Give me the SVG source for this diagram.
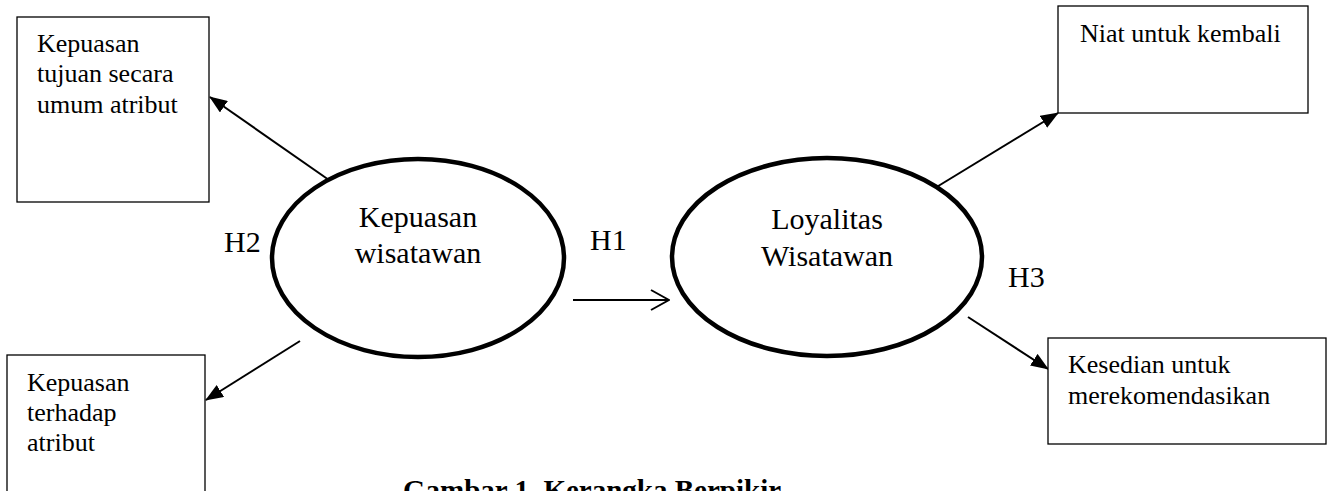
<svg xmlns="http://www.w3.org/2000/svg" width="1330" height="491" viewBox="0 0 1330 491">
<style>
.box{fill:#fff;stroke:#000;stroke-width:1.3}
.ell{fill:#fff;stroke:#000;stroke-width:4.5}
.bt{font-family:"Liberation Serif","Times New Roman",serif;font-size:26px;fill:#000}
.et{font-family:"Liberation Serif","Times New Roman",serif;font-size:30px;fill:#000;text-anchor:middle}
.ht{font-family:"Liberation Serif","Times New Roman",serif;font-size:30px;fill:#000}
.cap{font-family:"Liberation Serif","Times New Roman",serif;font-size:29px;font-weight:bold;fill:#000}
.con{stroke:#000;stroke-width:2;fill:none}
</style>
<defs>
<marker id="fa" markerWidth="10" markerHeight="8" refX="9.5" refY="4" orient="auto" markerUnits="userSpaceOnUse" viewBox="0 0 10 8">
</marker>
<marker id="tri" viewBox="0 0 18 14" markerWidth="18" markerHeight="14" refX="17" refY="7" orient="auto" markerUnits="userSpaceOnUse">
<path d="M0,0 L18,7 L0,14 Z" fill="#000"/>
</marker>
<marker id="open" viewBox="0 0 20 22" markerWidth="20" markerHeight="22" refX="19" refY="11" orient="auto" markerUnits="userSpaceOnUse">
<path d="M1,1 L19,11 L1,21" fill="none" stroke="#000" stroke-width="2"/>
</marker>
</defs>
<g id="connectors">
<line class="con" x1="329" y1="180" x2="210" y2="97" marker-end="url(#tri)"/>
<line class="con" x1="300" y1="341" x2="206" y2="400" marker-end="url(#tri)"/>
<line class="con" x1="573" y1="300" x2="669" y2="300" marker-end="url(#open)"/>
<line class="con" x1="935" y1="188" x2="1058" y2="113" marker-end="url(#tri)"/>
<line class="con" x1="968" y1="317" x2="1048" y2="369" marker-end="url(#tri)"/>
</g>
<g id="box-kepuasan-tujuan">
<rect class="box" x="17" y="17" width="192" height="185"/>
<text class="bt" x="37" y="52">Kepuasan</text>
<text class="bt" x="37" y="82">tujuan secara</text>
<text class="bt" x="37" y="113">umum atribut</text>
</g>
<g id="box-kepuasan-atribut">
<rect class="box" x="7" y="355" width="198" height="150"/>
<text class="bt" x="27" y="391">Kepuasan</text>
<text class="bt" x="27" y="421">terhadap</text>
<text class="bt" x="27" y="451">atribut</text>
</g>
<g id="box-niat">
<rect class="box" x="1058" y="6" width="250" height="107"/>
<text class="bt" x="1080" y="42">Niat untuk kembali</text>
</g>
<g id="box-kesedian">
<rect class="box" x="1048" y="338" width="278" height="106"/>
<text class="bt" x="1068" y="373">Kesedian untuk</text>
<text class="bt" x="1068" y="404">merekomendasikan</text>
</g>
<g id="ellipse-kepuasan">
<ellipse class="ell" cx="418" cy="258" rx="146" ry="99"/>
<text class="et" x="418" y="227">Kepuasan</text>
<text class="et" x="418" y="263">wisatawan</text>
</g>
<g id="ellipse-loyalitas">
<ellipse class="ell" cx="827" cy="257" rx="155" ry="99"/>
<text class="et" x="827" y="229">Loyalitas</text>
<text class="et" x="827" y="266">Wisatawan</text>
</g>
<g id="labels">
<text class="ht" x="224" y="252">H2</text>
<text class="ht" x="590" y="250">H1</text>
<text class="ht" x="1008" y="287">H3</text>
</g>
<text class="cap" x="403" y="500">Gambar 1. Kerangka Berpikir</text>
</svg>
